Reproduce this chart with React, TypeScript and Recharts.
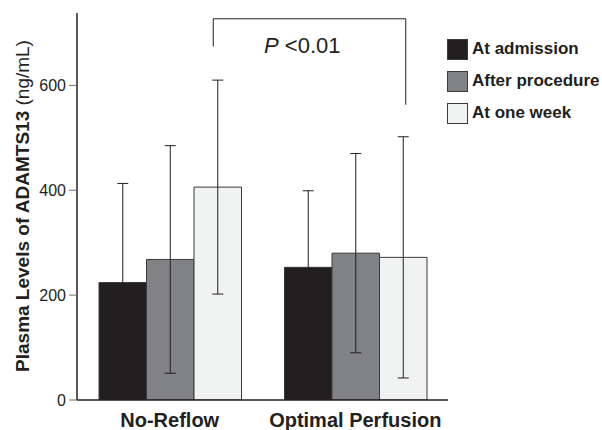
import React from "react";
import {
  BarChart,
  Bar,
  XAxis,
  YAxis,
  ErrorBar,
  Customized,
} from "recharts";

const categories = ["No-Reflow", "Optimal Perfusion"];
const seriesNames = ["At admission", "After procedure", "At one week"];
const admission = [224, 253];
const admissionErr = [189, 146];
const procedure = [268, 280];
const procedureErr = [217, 190];
const oneWeek = [406, 272];
const oneWeekErr = [204, 230];
const yTicks = [0, 200, 400, 600];

// bracket over the one-week bars (data units)
const bracketTop = 727;
const bracketLeftEnd = 674;
const bracketRightEnd = 563;
const pLabel = "0.01";

const colors = ["#231f20", "#808285", "#f1f2f2"];
const ink = "#231f20";
const font = "'Liberation Sans', Arial, sans-serif";

const W = 602;
const H = 430;
const plotLeft = 77;
const plotTop = 13;
const plotBottom = 400;
const plotRight = 448;
const yMax = 738;
const barSize = 47.5;

const data = categories.map((name, i) => ({
  name,
  admission: admission[i],
  admissionErr: admissionErr[i],
  procedure: procedure[i],
  procedureErr: procedureErr[i],
  oneWeek: oneWeek[i],
  oneWeekErr: oneWeekErr[i],
}));

const yPx = (v: number) =>
  plotTop + (plotBottom - plotTop) * (1 - v / yMax);
const band = (plotRight - plotLeft) / categories.length;
const barCenter = (cat: number, k: number) =>
  plotLeft + band * (cat + 0.5) + (k - 1) * barSize;

const Bracket = () => {
  const x1 = barCenter(0, 2) - 4;
  const x2 = barCenter(1, 2) + 3;
  return (
    <g>
      <path
        d={`M${x1},${yPx(bracketLeftEnd)} V${yPx(bracketTop)} H${x2} V${yPx(
          bracketRightEnd
        )}`}
        fill="none"
        stroke={ink}
        strokeWidth={1}
      />
      <text x={264} y={53} fontFamily={font} fontSize={22} fill={ink}>
        <tspan fontStyle="italic">P</tspan>
        <tspan> &lt;{pLabel}</tspan>
      </text>
    </g>
  );
};

const LegendBox = () => (
  <div style={{ position: "absolute", left: 447, top: 39, fontFamily: font }}>
    {seriesNames.map((s, i) => (
      <div
        key={s}
        style={{ display: "flex", alignItems: "center", height: 20, marginBottom: 12 }}
      >
        <div
          style={{
            width: 19,
            height: 19,
            background: colors[i],
            border: "1px solid #3a3a3a",
            marginRight: 4,
          }}
        />
        <span style={{ fontSize: 17, fontWeight: "bold", color: ink, whiteSpace: "nowrap" }}>
          {s}
        </span>
      </div>
    ))}
  </div>
);

const YLabel = () => (
  <text
    transform="rotate(-90, 22, 206)"
    x={22}
    y={206}
    textAnchor="middle"
    dominantBaseline="central"
    fontFamily={font}
    fontSize={19}
    fill={ink}
  >
    <tspan fontWeight="bold">Plasma Levels of ADAMTS13</tspan>
    <tspan> (ng/mL)</tspan>
  </text>
);

export default function App() {
  return (
    <div style={{ position: "absolute", left: 0, top: 0, width: W, height: H, background: "#fff" }}>
      <BarChart
        width={W}
        height={H}
        data={data}
        barGap={0}
        barSize={barSize}
        margin={{ top: plotTop, right: W - plotRight, bottom: 0, left: 0 }}
      >
        <XAxis
          dataKey="name"
          height={H - plotBottom}
          interval={0}
          tickLine={false}
          tickSize={0}
          tickMargin={13}
          axisLine={{ stroke: ink, strokeWidth: 1.5 }}
          tick={{ fill: ink, fontSize: 20, fontWeight: "bold", fontFamily: font }}
        />
        <YAxis
          width={plotLeft}
          domain={[0, yMax]}
          ticks={yTicks}
          tickSize={8}
          tickMargin={3}
          allowDataOverflow
          axisLine={{ stroke: ink, strokeWidth: 1.5 }}
          tickLine={{ stroke: "#6d6e71" }}
          tick={{ fill: ink, fontSize: 16, fontFamily: font }}
          label={<YLabel />}
        />
        <Bar dataKey="admission" fill={colors[0]} stroke="#3a3a3a" strokeWidth={1} isAnimationActive={false}>
          <ErrorBar dataKey="admissionErr" width={5.5} stroke={ink} strokeWidth={1} />
        </Bar>
        <Bar dataKey="procedure" fill={colors[1]} stroke="#3a3a3a" strokeWidth={1} isAnimationActive={false}>
          <ErrorBar dataKey="procedureErr" width={5.5} stroke={ink} strokeWidth={1} />
        </Bar>
        <Bar dataKey="oneWeek" fill={colors[2]} stroke="#3a3a3a" strokeWidth={1} isAnimationActive={false}>
          <ErrorBar dataKey="oneWeekErr" width={5.5} stroke={ink} strokeWidth={1} />
        </Bar>
        <Customized component={<Bracket />} />
      </BarChart>
      <LegendBox />
    </div>
  );
}
